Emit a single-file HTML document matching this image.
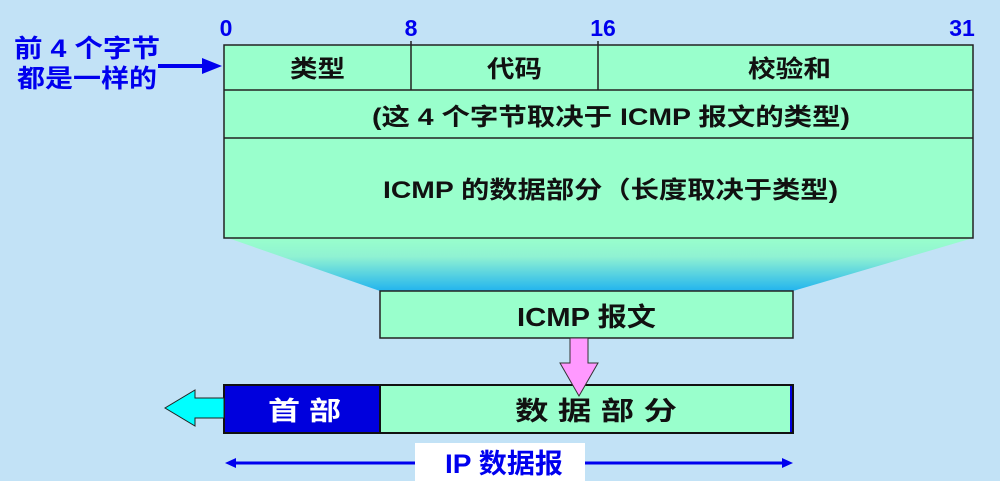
<!DOCTYPE html>
<html><head><meta charset="utf-8"><style>
html,body{margin:0;padding:0;background:#c2e2f6;}
svg{display:block}
text{font-family:"Liberation Sans","Noto Sans CJK SC",sans-serif;font-weight:bold;}
</style></head><body>
<svg width="1000" height="481" viewBox="0 0 1000 481" xmlns="http://www.w3.org/2000/svg">
<defs>
<linearGradient id="g" x1="0" y1="0" x2="0" y2="1">
<stop offset="0" stop-color="#99ffcc"/><stop offset="0.35" stop-color="#90f2d2"/><stop offset="1" stop-color="#22b4ee"/>
</linearGradient>
</defs>
<rect width="1000" height="481" fill="#c2e2f6"/>
<polygon points="228,238 973,238 793,291 380,291" fill="url(#g)"/>
<rect x="224" y="45" width="749" height="193" fill="#99ffcc" stroke="#222" stroke-width="1.5"/>
<line x1="224" y1="90" x2="973" y2="90" stroke="#222" stroke-width="1.5"/>
<line x1="224" y1="138" x2="973" y2="138" stroke="#222" stroke-width="1.5"/>
<line x1="411" y1="41" x2="411" y2="90" stroke="#222" stroke-width="1.5"/>
<line x1="598" y1="41" x2="598" y2="90" stroke="#222" stroke-width="1.5"/>
<g fill="#0000ee" font-size="23">
<text x="226" y="36" text-anchor="middle">0</text>
<text x="411" y="36" text-anchor="middle">8</text>
<text x="603" y="36" text-anchor="middle">16</text>
<text x="962" y="36" text-anchor="middle">31</text>
</g>
<g fill="#111" font-size="24">
<text x="290" y="77" textLength="55" lengthAdjust="spacingAndGlyphs">类型</text>
<text x="487" y="77" textLength="55" lengthAdjust="spacingAndGlyphs">代码</text>
<text x="748" y="77" textLength="83" lengthAdjust="spacingAndGlyphs">校验和</text>
<text x="372" y="125" textLength="478" lengthAdjust="spacingAndGlyphs">(这 4 个字节取决于 ICMP 报文的类型)</text>
<text x="383" y="198" textLength="455" lengthAdjust="spacingAndGlyphs">ICMP 的数据部分（长度取决于类型)</text>
</g>
<g fill="#0000ee" font-size="25">
<text x="14" y="57" textLength="146" lengthAdjust="spacingAndGlyphs">前 4 个字节</text>
<text x="17" y="87" textLength="140" lengthAdjust="spacingAndGlyphs">都是一样的</text>
</g>
<line x1="158" y1="66" x2="204" y2="66" stroke="#0000ee" stroke-width="4"/>
<polygon points="222,66 202,58 202,74" fill="#0000ee"/>
<rect x="380" y="291" width="413" height="47" fill="#99ffcc" stroke="#222" stroke-width="1.5"/>
<text x="517" y="326" font-size="26" fill="#111" textLength="139" lengthAdjust="spacingAndGlyphs">ICMP 报文</text>
<rect x="224" y="385" width="569" height="48" fill="#99ffcc" stroke="#111" stroke-width="2"/>
<rect x="224" y="385" width="156" height="48" fill="#0000dd" stroke="#111" stroke-width="2"/>
<line x1="791" y1="386" x2="791" y2="432" stroke="#0000dd" stroke-width="2"/>
<text x="268" y="420" font-size="26" fill="#fff" textLength="73" lengthAdjust="spacingAndGlyphs">首 部</text>
<text x="515" y="420" font-size="26" fill="#111" textLength="162" lengthAdjust="spacingAndGlyphs">数 据 部 分</text>
<polygon points="570,338 588,338 588,363 598,363 579,396 560,363 570,363" fill="#ff99ff" stroke="#333" stroke-width="1"/>
<polygon points="224,398 195,398 195,390 165,408 195,426 195,418 224,418" fill="#00ffff" stroke="#222" stroke-width="1"/>
<line x1="232" y1="463" x2="786" y2="463" stroke="#0000ee" stroke-width="3"/>
<polygon points="225,463 236,458 236,468" fill="#0000ee"/>
<polygon points="793,463 782,458 782,468" fill="#0000ee"/>
<rect x="415" y="443" width="170" height="38" fill="#fff"/>
<text x="445" y="473" font-size="27" fill="#0000ee" textLength="118" lengthAdjust="spacingAndGlyphs">IP 数据报</text>
</svg>
</body></html>
